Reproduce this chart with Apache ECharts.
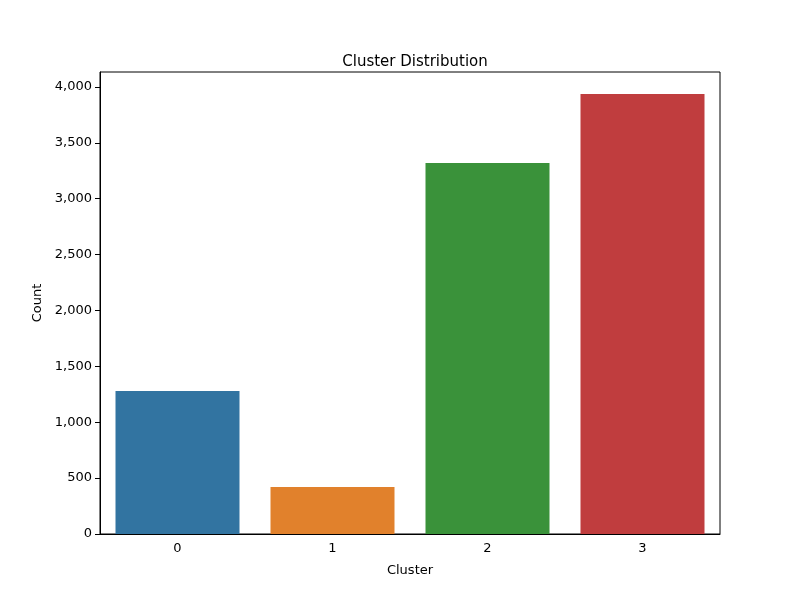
<!DOCTYPE html>
<html>
<head>
<meta charset="utf-8">
<script src="https://cdn.jsdelivr.net/npm/echarts@6/dist/echarts.min.js"></script>
<style>
    body { margin: 0; background: #fff; }
    #chart { width: 800px; height: 600px; }
</style>
</head>
<body>
<div id="chart"></div>
<script>
// 数据
const clusters = ['0', '1', '2', '3']
const counts = [1280, 420, 3320, 3937]
const barColors = ['#3274a1', '#e1812c', '#3a923a', '#c03d3e']

const mychart = echarts.init(document.getElementById('chart'))

let option = {
    title: {
        text: 'Cluster Distribution',
        left: 410,
        top: 50,
        textAlign: 'center',
        textStyle: { fontFamily: 'DejaVu Sans', fontSize: 15, fontWeight: 'normal', color: '#000' },
    },
    // 网格 + 外框
    grid: {
        left: 100,
        right: 80,
        top: 72,
        bottom: 66,
        show: true,
        borderColor: '#000',
        borderWidth: 1,
    },
    xAxis: {
        type: 'category',
        data: clusters,
        name: 'Cluster',
        nameLocation: 'middle',
        nameGap: 30,
        nameTextStyle: { fontFamily: 'DejaVu Sans', fontSize: 13, color: '#000' },
        axisLine: { lineStyle: { color: '#000' } },
        axisTick: { alignWithLabel: true, lineStyle: { color: '#000' } },
        axisLabel: { fontFamily: 'DejaVu Sans', fontSize: 13, color: '#000' },
    },
    yAxis: {
        type: 'value',
        min: 0,
        max: 4134,
        interval: 500,
        name: 'Count',
        nameLocation: 'middle',
        nameGap: 56,
        nameTextStyle: { fontFamily: 'DejaVu Sans', fontSize: 13, color: '#000' },
        splitLine: { show: false },
        axisLine: { show: true, lineStyle: { color: '#000' } },
        axisTick: { show: true, lineStyle: { color: '#000' } },
        axisLabel: {
            fontFamily: 'DejaVu Sans',
            fontSize: 13,
            color: '#000',
            showMaxLabel: false,
        },
    },
    series: [
        {
            type: 'bar',
            barCategoryGap: '20%',
            data: counts.map((v, i) => ({ value: v, itemStyle: { color: barColors[i] } })),
        },
    ],
}

mychart.setOption(option)
</script>
</body>
</html>
